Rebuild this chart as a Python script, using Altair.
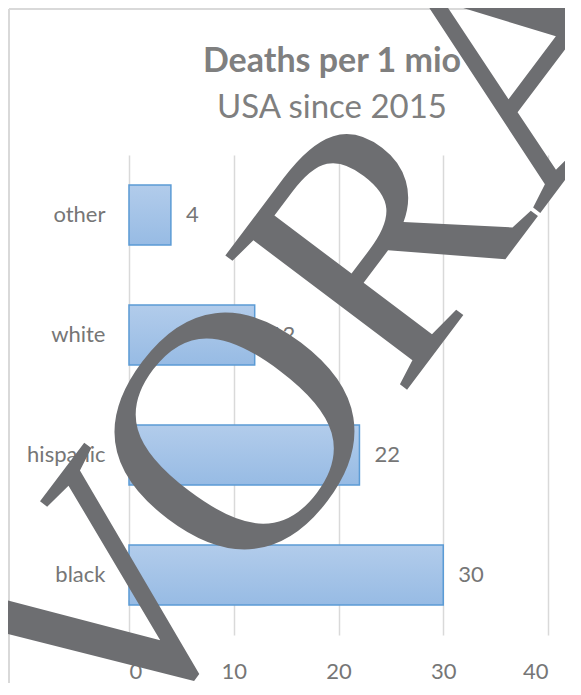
import altair as alt
import pandas as pd

categories = ["other", "white", "hispanic", "black"]
values = [4, 12, 22, 30]
x_ticks = [0, 10, 20, 30, 40]
title_line = ["Deaths per 1 mio"]
subtitle_line = ["USA since 2015"]
watermark_first = ["V"]
watermark_rest = ["ORA"]

df = pd.DataFrame({"group": categories, "deaths": values})
wm1 = pd.DataFrame({"t": watermark_first})
wm2 = pd.DataFrame({"t": watermark_rest})
t1 = pd.DataFrame({"t": title_line})
t2 = pd.DataFrame({"t": subtitle_line})
one = pd.DataFrame({"k": [0]})

label_color = "#767676"
title_color = "#7f7f7f"
wm_color = "#6d6e71"
font = "Lato"

x_enc = alt.X("deaths:Q",
              scale=alt.Scale(domain=[0, 40], nice=False),
              axis=alt.Axis(values=x_ticks, title=None, domain=False, ticks=False,
                            grid=True, gridColor="#d9d9d9", gridWidth=1.5,
                            labelFontSize=22, labelColor=label_color, labelFont=font,
                            labelPadding=26))
y_enc = alt.Y("group:N", sort=categories,
              scale=alt.Scale(paddingInner=0.5, paddingOuter=0.25),
              axis=alt.Axis(title=None, domain=False, ticks=False, grid=False,
                            labelFontSize=22, labelColor=label_color, labelFont=font,
                            labelPadding=24))

gradient = alt.Gradient(gradient="linear",
                        stops=[alt.GradientStop(color="#b2cceb", offset=0),
                               alt.GradientStop(color="#97bbe4", offset=1)],
                        x1=0, x2=0, y1=0, y2=1)

bars = alt.Chart(df).mark_bar(fill=gradient, stroke="#5b9bd5", strokeWidth=1.5).encode(
    x=x_enc, y=y_enc)

labels = alt.Chart(df).mark_text(align="left", baseline="middle", dx=15,
                                 fontSize=22, color=label_color, font=font).encode(
    x="deaths:Q", y=alt.Y("group:N", sort=categories), text="deaths:Q")

border_left = alt.Chart(one).mark_rule(color="#d9d9d9", strokeWidth=2, clip=False).encode(
    x=alt.value(-120), y=alt.value(-146), y2=alt.value(540))
border_top = alt.Chart(one).mark_rule(color="#d9d9d9", strokeWidth=2, clip=False).encode(
    x=alt.value(-120), x2=alt.value(460), y=alt.value(-146))

title1 = alt.Chart(t1).mark_text(font=font, fontSize=34, fontWeight="bold", color=title_color,
                                 align="center", baseline="alphabetic", clip=False).encode(
    x=alt.value(203), y=alt.value(-83), text="t:N")
title2 = alt.Chart(t2).mark_text(font=font, fontSize=33, color=title_color,
                                 align="center", baseline="alphabetic", clip=False).encode(
    x=alt.value(203), y=alt.value(-37), text="t:N")

wm_v = alt.Chart(wm1).mark_text(font="Liberation Serif", fontSize=345, angle=307,
                                align="center", baseline="alphabetic",
                                color=wm_color, clip=False).encode(
    x=alt.value(63), y=alt.value(520), text="t:N")
wm_ora = alt.Chart(wm2).mark_text(font="Liberation Serif", fontSize=345, angle=307,
                                  align="center", baseline="alphabetic",
                                  color=wm_color, clip=False).encode(
    x=alt.value(340), y=alt.value(152.5), text="t:N")

chart = alt.layer(border_left, border_top, bars, labels, title1, title2, wm_v, wm_ora).properties(
    width=419, height=480,
    autosize=alt.AutoSizeParams(type="none"),
    padding={"left": 121, "top": 147, "right": 17, "bottom": 48},
).configure_view(stroke=None)

chart.save("out.html", embed_options={"renderer": "svg", "actions": False})
